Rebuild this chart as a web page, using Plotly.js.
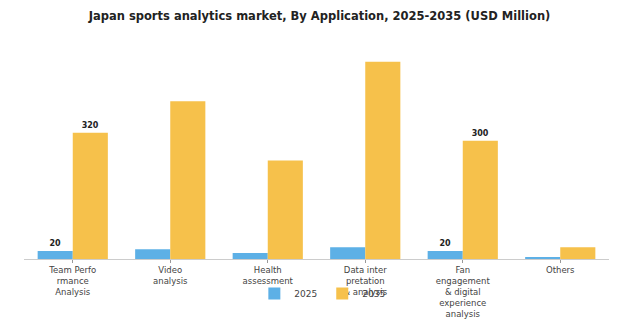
<!DOCTYPE html>
<html><head><meta charset="utf-8">
<script src="https://cdn.plot.ly/plotly-3.0.1.min.js"></script>
<style>html,body{margin:0;padding:0;background:#fff;}#chart{width:639px;height:328px;}</style>
</head><body><div id="chart"></div>
<script>
const categories = ["Team Perfo<br>rmance<br>Analysis","Video<br>analysis","Health<br>assessment","Data inter<br>pretation<br>& analysis","Fan<br>engagement<br>& digital<br>experience<br>analysis","Others"];
const values2025 = [20, 25, 15, 30, 20, 5];
const values2035 = [320, 400, 250, 500, 300, 30];
const labeled2025 = [true, false, false, false, true, false];
const labeled2035 = [true, false, false, false, true, false];

const traces = [
  {type:'bar', name:'2025', x:categories, y:values2025, marker:{color:'#5DB0E6'},
   text: values2025.map((v,i)=>labeled2025[i]?'<b>'+v+'</b>':''), textposition:'outside',
   textfont:{family:'DejaVu Sans', size:8, color:'#222'}, cliponaxis:false},
  {type:'bar', name:'2035', x:categories, y:values2035, marker:{color:'#F6C14B'},
   text: values2035.map((v,i)=>labeled2035[i]?'<b>'+v+'</b>':''), textposition:'outside',
   textfont:{family:'DejaVu Sans', size:8, color:'#222'}, cliponaxis:false}
];
const layout = {
  width:639, height:328,
  margin:{l:24, r:30, t:44, b:69},
  paper_bgcolor:'#fff', plot_bgcolor:'#fff',
  title:{text:'<b>Japan sports analytics market, By Application, 2025-2035 (USD Million)</b>', x:0.5, xanchor:'center', y:0.95, yanchor:'middle', font:{family:'DejaVu Sans', size:11.5, color:'#222'}},
  barmode:'group', bargap:0.28, bargroupgap:0,
  xaxis:{showline:true, linecolor:'#ccc', linewidth:1, ticks:'outside', ticklen:3, tickcolor:'#999',
         tickfont:{family:'DejaVu Sans', size:8.5, color:'#444'}, showgrid:false, tickangle:0},
  yaxis:{visible:false, range:[0,545], showgrid:false, zeroline:false},
  showlegend:true,
  legend:{orientation:'h', x:0.51, xanchor:'center', y:-0.16, yanchor:'middle', font:{family:'DejaVu Sans', size:9, color:'#444'}, bgcolor:'rgba(0,0,0,0)'},
  uniformtext:{mode:false}
};
Plotly.newPlot('chart', traces, layout, {displayModeBar:false, staticPlot:true});
</script></body></html>
